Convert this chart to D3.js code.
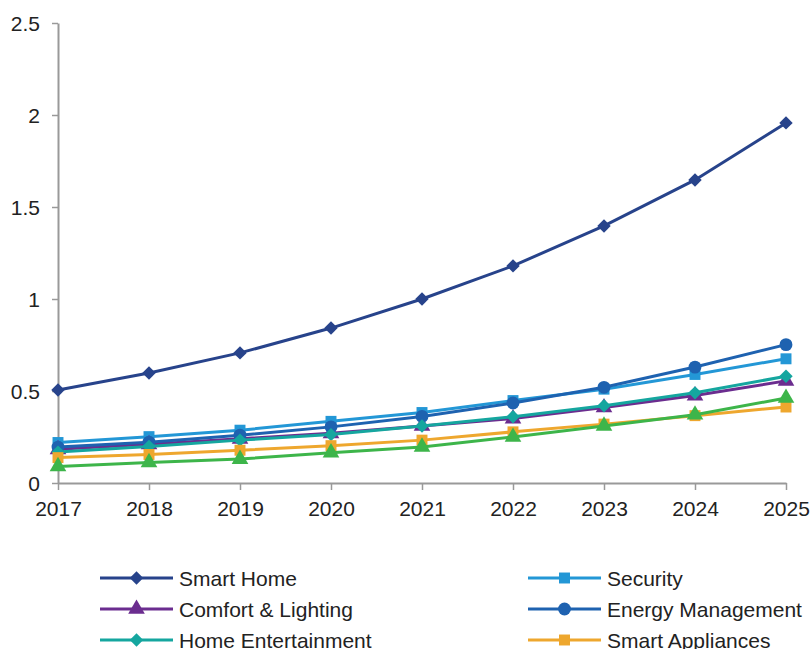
<!DOCTYPE html>
<html><head><meta charset="utf-8">
<script src="https://cdn.jsdelivr.net/npm/d3@7"></script>
<style>body{margin:0;background:#fff}svg{display:block}text{font-family:"Liberation Sans",Arial,sans-serif;fill:#222}</style>
</head><body>
<svg id="c" width="812" height="649"></svg>
<script>
const years = [2017,2018,2019,2020,2021,2022,2023,2024,2025];
const yTicks = [0,0.5,1,1.5,2,2.5];
const seriesNames = ["Smart Home","Security","Comfort & Lighting","Energy Management","Home Entertainment","Smart Appliances","Other"];
const smartHome   = [0.505,0.598,0.707,0.842,1.0,1.18,1.397,1.647,1.957];
const security    = [0.22,0.252,0.287,0.335,0.383,0.448,0.51,0.59,0.675];
const comfort     = [0.183,0.21,0.24,0.27,0.31,0.35,0.41,0.475,0.555];
const energy      = [0.195,0.222,0.26,0.305,0.362,0.435,0.52,0.63,0.752];
const homeEnt     = [0.168,0.198,0.233,0.263,0.31,0.36,0.42,0.49,0.58];
const appliances  = [0.138,0.155,0.178,0.203,0.233,0.278,0.32,0.366,0.413];
const other       = [0.09,0.112,0.13,0.165,0.196,0.25,0.31,0.371,0.462];
const seriesValues = [smartHome,security,comfort,energy,homeEnt,appliances,other];
const colors = ["#27438b","#2397d6","#6b2d8f","#1e62b0","#15a69f","#eea72e","#3db54a"];
const shapes = ["diamond","square","triangle","circle","diamond","square","triangle"];
const symType = {diamond:d3.symbolSquare,square:d3.symbolSquare,triangle:d3.symbolTriangle,circle:d3.symbolCircle};
const symSize = {diamond:90,square:120,triangle:120,circle:130};
const symRot = {diamond:45,square:0,triangle:0,circle:0};

const svg = d3.select("#c");
const x = d3.scaleLinear().domain([2017,2025]).range([58,786]);
const y = d3.scaleLinear().domain([0,2.5]).range([483,23]);

const gx = svg.append("g").attr("transform","translate(0,483)")
  .call(d3.axisBottom(x).tickValues(years).tickFormat(d3.format("d")).tickSize(7).tickSizeOuter(0));
const gy = svg.append("g").attr("transform","translate(58,0)")
  .call(d3.axisLeft(y).tickValues(yTicks).tickFormat(d=>String(d)).tickSize(6).tickSizeOuter(0));
[gx,gy].forEach(g=>{
  g.select(".domain").attr("stroke","#999").attr("stroke-width",2);
  g.selectAll(".tick line").attr("stroke","#999").attr("stroke-width",1.5);
  g.selectAll(".tick text").attr("fill","#222").style("font-size","21px").style("font-family","'Liberation Sans',Arial,sans-serif");
});
gx.selectAll(".tick text").attr("dy","0").attr("y",33);
gy.selectAll(".tick text").attr("x",-18).attr("dy","0.36em");

const marker = (k)=> d3.symbol().type(symType[shapes[k]]).size(symSize[shapes[k]]);
const line = d3.line().x((d,i)=>x(years[i])).y(d=>y(d));
seriesValues.forEach((vals,k)=>{
  const g = svg.append("g");
  g.append("path").attr("d",line(vals)).attr("fill","none").attr("stroke",colors[k]).attr("stroke-width",3);
  g.selectAll("path.m").data(vals).join("path").attr("class","m")
    .attr("transform",(d,i)=>`translate(${x(years[i])},${y(d)}) rotate(${symRot[shapes[k]]})`)
    .attr("d",marker(k)).attr("fill",colors[k]);
});

const legX = [100,528], legY = [578,609,640,671];
seriesNames.forEach((name,k)=>{
  const col = k%2, row = Math.floor(k/2);
  const g = svg.append("g").attr("transform",`translate(${legX[col]},${legY[row]})`);
  g.append("line").attr("x1",0).attr("x2",73).attr("stroke",colors[k]).attr("stroke-width",3);
  g.append("path").attr("transform",`translate(36.5,0) rotate(${symRot[shapes[k]]})`).attr("d",marker(k)).attr("fill",colors[k]);
  g.append("text").attr("x",79).attr("dy","0.36em").style("font-size","21px").text(name);
});
</script>
</body></html>
